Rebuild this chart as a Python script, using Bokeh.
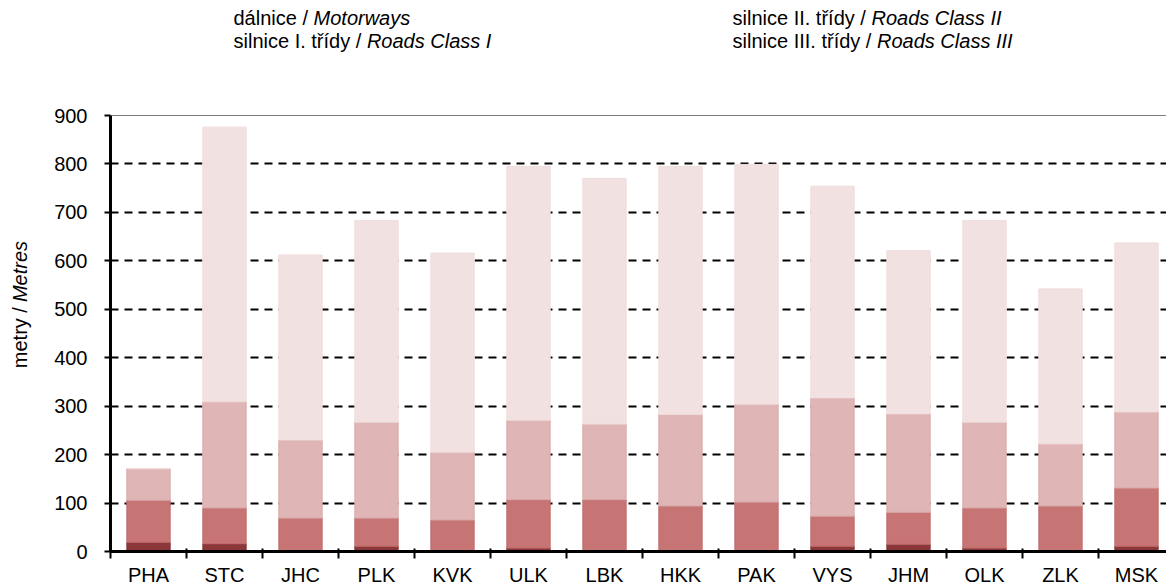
import math
from bokeh.plotting import figure
from bokeh.layouts import column, row
from bokeh.models import Range1d, FixedTicker, Span, ColumnDataSource
from bokeh.core.properties import value
from bokeh.embed import file_html
from bokeh.resources import INLINE

# ---- data ----
regions = ["PHA", "STC", "JHC", "PLK", "KVK", "ULK", "LBK",
           "HKK", "PAK", "VYS", "JHM", "OLK", "ZLK", "MSK"]
motorways = [19, 16, 0, 11, 0, 7, 0, 0, 0, 11, 15, 7, 0, 11]
roads_class1 = [87, 74, 69, 58, 65, 100, 107, 94, 102, 62, 66, 83, 94, 120]
roads_class2 = [65, 219, 161, 198, 140, 164, 156, 189, 202, 244, 203, 177, 128, 157]
roads_class3 = [0, 567, 382, 416, 411, 524, 507, 512, 495, 437, 337, 416, 320, 349]

legend_cz = ["dálnice / ", "silnice I. třídy / ", "silnice II. třídy / ", "silnice III. třídy / "]
legend_en = ["Motorways", "Roads Class I", "Roads Class II", "Roads Class III"]
title_cz, title_en = "metry /", "Metres"
y_ticks = [0, 100, 200, 300, 400, 500, 600, 700, 800, 900]

colors = ["#8B3739", "#C77474", "#DFB5B5", "#F2E1E1"]
line_colors = ["#843234", "#C06C6C", "#D9AAAA", "#F0DCDC"]

FONT = "Liberation Sans"

# Arial / Liberation Sans advance widths (per 1000 em)
AW = {"d": 556, "á": 556, "l": 222, "n": 556, "i": 222, "c": 500, "e": 556, " ": 278,
      "/": 278, "s": 500, "I": 278, ".": 278, "t": 278, "ř": 333, "í": 278, "y": 500,
      "m": 833, "r": 333}


def text_width(s, size):
    return sum(AW.get(ch, 556) for ch in s) * size / 1000.0


def blank_fig(w, h, xr, yr):
    f = figure(width=w, height=h, output_backend="svg", toolbar_location=None,
               x_range=Range1d(*xr), y_range=Range1d(*yr),
               x_axis_type=None, y_axis_type=None, title=None,
               min_border_left=0, min_border_right=0, min_border_top=0, min_border_bottom=0)
    f.outline_line_color = None
    f.grid.visible = False
    f.background_fill_color = "white"
    f.border_fill_color = "white"
    return f


TOTAL_W = 1166
LEG_H = 60
TITLE_W = 40
MAIN_H = 528

# ---- legend strip (text only, coordinates = page pixels) ----
leg = blank_fig(TOTAL_W, LEG_H, (0, TOTAL_W), (LEG_H, 0))
LFS = 20
col_x = [233, 233, 732, 732]
row_y = [17, 40, 17, 40]
leg_src_cz = ColumnDataSource(dict(x=col_x, y=row_y, t=legend_cz))
leg_src_en = ColumnDataSource(dict(x=[cx + text_width(cz, LFS) for cx, cz in zip(col_x, legend_cz)],
                                   y=row_y, t=legend_en))
leg.text(x="x", y="y", text="t", source=leg_src_cz, text_font=value(FONT),
         text_font_size=value(f"{LFS}px"), text_baseline="middle", text_align="left",
         text_color="black")
leg.text(x="x", y="y", text="t", source=leg_src_en, text_font=value(FONT),
         text_font_size=value(f"{LFS}px"), text_font_style="italic",
         text_baseline="middle", text_align="left", text_color="black")

# ---- y axis title strip (y measured upward from the bottom of the strip) ----
ttl = blank_fig(TITLE_W, MAIN_H, (0, TITLE_W), (0, MAIN_H))
TFS = 20
page_bottom = LEG_H + MAIN_H
# "metry /" ends at the junction, "Metres" starts just after it
ttl.text(x=[19], y=[page_bottom - 292], text=[title_cz], angle=math.pi / 2, text_font=value(FONT),
         text_font_size=value(f"{TFS}px"), text_baseline="middle", text_align="right",
         text_color="black")
ttl.text(x=[19], y=[page_bottom - 286], text=[title_en], angle=math.pi / 2, text_font=value(FONT),
         text_font_size=value(f"{TFS}px"), text_font_style="italic",
         text_baseline="middle", text_align="left", text_color="black")

# ---- main chart ----
MAIN_W = TOTAL_W - TITLE_W
LEFT = 110 - TITLE_W
TOP = 115 - LEG_H
BOTTOM = MAIN_H - (551 - LEG_H)
CAT_PX = 76.0
x_end = (MAIN_W - LEFT) / CAT_PX

xs = [i + 0.5 for i in range(len(regions))]
source = ColumnDataSource(dict(x=xs, m=motorways, c1=roads_class1, c2=roads_class2, c3=roads_class3))

p = figure(width=MAIN_W, height=MAIN_H, output_backend="svg", toolbar_location=None,
           x_range=Range1d(0, x_end), y_range=Range1d(0, 900),
           min_border_left=LEFT, min_border_top=TOP, min_border_bottom=BOTTOM,
           min_border_right=0, title=None)
p.outline_line_color = None
p.background_fill_color = "white"
p.border_fill_color = "white"

p.vbar_stack(["m", "c1", "c2", "c3"], x="x", width=0.57, source=source,
             fill_color=colors, line_color=line_colors, line_width=1)

yax = p.yaxis[0]
yax.ticker = FixedTicker(ticks=y_ticks)
yax.axis_line_width = 3
yax.axis_line_color = "black"
yax.major_tick_line_width = 2
yax.major_tick_out = 6
yax.major_tick_in = 0
yax.minor_tick_line_color = None
yax.major_label_standoff = 17
yax.major_label_text_font = FONT
yax.major_label_text_font_size = "20px"
yax.major_label_text_color = "black"

xax = p.xaxis[0]
xax.ticker = FixedTicker(ticks=xs, minor_ticks=list(range(0, 15)))
xax.major_label_overrides = {x: r for x, r in zip(xs, regions)}
xax.axis_line_width = 3
xax.axis_line_color = "black"
xax.major_tick_line_color = None
xax.major_tick_out = 0
xax.major_tick_in = 0
xax.minor_tick_line_width = 2
xax.minor_tick_line_color = "black"
xax.minor_tick_in = 3
xax.minor_tick_out = 7
xax.major_label_standoff = 5
xax.major_label_text_font = FONT
xax.major_label_text_font_size = "20px"
xax.major_label_text_color = "black"

p.xgrid.grid_line_color = None
p.ygrid.ticker = FixedTicker(ticks=y_ticks)
p.ygrid.grid_line_color = "black"
p.ygrid.grid_line_width = 2
p.ygrid.grid_line_dash = "8 6"
p.add_layout(Span(location=900, dimension="width", line_color="black", line_width=1))

layout = column(leg, row(ttl, p, spacing=0), spacing=0)
open("out.html", "w").write(file_html(layout, INLINE))
